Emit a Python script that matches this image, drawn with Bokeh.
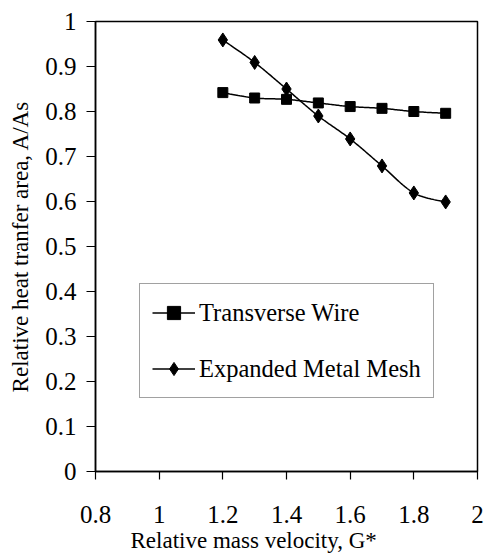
import numpy as np
from bokeh.plotting import figure
from bokeh.models import FixedTicker, Legend, LegendItem, Title
from bokeh.embed import file_html
from bokeh.resources import INLINE

# ---- data ----
g_star = [1.2, 1.3, 1.4, 1.5, 1.6, 1.7, 1.8, 1.9]
transverse_wire = [0.842, 0.830, 0.827, 0.819, 0.811, 0.807, 0.800, 0.796]
expanded_mesh = [0.959, 0.909, 0.850, 0.790, 0.739, 0.679, 0.619, 0.599]

x_ticks = [0.8, 1.0, 1.2, 1.4, 1.6, 1.8, 2.0]
x_tick_labels = ["0.8", "1", "1.2", "1.4", "1.6", "1.8", "2"]
y_ticks = [0, 0.1, 0.2, 0.3, 0.4, 0.5, 0.6, 0.7, 0.8, 0.9, 1.0]
y_tick_labels = ["0", "0.1", "0.2", "0.3", "0.4", "0.5", "0.6", "0.7", "0.8", "0.9", "1"]

x_title = "Relative mass velocity, G*"
y_title = "Relative heat tranfer area, A/As"
names = ["Transverse Wire", "Expanded Metal Mesh"]

FONT = "Liberation Serif"


def smooth(xs, ys, n=24):
    """Catmull-Rom spline through the data points (like a spreadsheet's smoothed line)."""
    P = np.column_stack([xs, ys]).astype(float)
    P = np.vstack([P[0], P, P[-1]])
    out = []
    for i in range(1, len(P) - 2):
        p0, p1, p2, p3 = P[i - 1], P[i], P[i + 1], P[i + 2]
        t = np.linspace(0, 1, n, endpoint=(i == len(P) - 3))[:, None]
        seg = 0.5 * ((2 * p1) + (-p0 + p2) * t + (2 * p0 - 5 * p1 + 4 * p2 - p3) * t ** 2
                     + (-p0 + 3 * p1 - 3 * p2 + p3) * t ** 3)
        out.append(seg)
    out = np.vstack(out)
    return out[:, 0], out[:, 1]


p = figure(width=486, height=553, x_range=(0.8, 2.0), y_range=(0, 1),
           output_backend="svg", toolbar_location=None,
           min_border_left=95, min_border_right=9, min_border_top=21, min_border_bottom=82)
p.xgrid.visible = False
p.ygrid.visible = False
p.outline_line_color = "black"
p.outline_line_width = 1.5
p.background_fill_color = "white"
p.border_fill_color = "white"

for ax in (p.xaxis[0], p.yaxis[0]):
    ax.axis_line_color = "black"
    ax.axis_line_width = 1.5
    ax.major_tick_line_color = "black"
    ax.major_tick_line_width = 1.2
    ax.major_tick_in = 0
    ax.minor_tick_line_color = None
    ax.major_label_text_font = FONT
    ax.major_label_text_font_size = "25px"
    ax.major_label_text_color = "black"

p.xaxis.ticker = FixedTicker(ticks=x_ticks)
p.xaxis.major_label_overrides = dict(zip(x_ticks, x_tick_labels))
p.xaxis.major_tick_out = 8
p.xaxis.major_label_standoff = 26

p.yaxis.ticker = FixedTicker(ticks=y_ticks)
p.yaxis.major_label_overrides = dict(zip(y_ticks, y_tick_labels))
p.yaxis.major_tick_out = 9
p.yaxis.major_label_standoff = 10
p.yaxis.axis_label = y_title
p.yaxis.axis_label_text_font = FONT
p.yaxis.axis_label_text_font_size = "23px"
p.yaxis.axis_label_text_font_style = "normal"
p.yaxis.axis_label_text_color = "black"
p.yaxis.axis_label_standoff = 9

xt = Title(text=x_title, align="left", offset=35, standoff=0,
           text_font=FONT, text_font_size="23px", text_font_style="normal",
           text_color="black")
p.add_layout(xt, "below")

# series
wx, wy = smooth(g_star, transverse_wire)
mx, my = smooth(g_star, expanded_mesh)
l1 = p.line(wx, wy, line_color="black", line_width=1.5)
s1 = p.scatter(g_star, transverse_wire, marker="square", size=10,
               fill_color="black", line_color="black")
l2 = p.line(mx, my, line_color="black", line_width=1.5)
s2 = p.scatter(g_star, expanded_mesh, marker="diamond", size=14,
               fill_color="black", line_color="black")

legend = Legend(items=[LegendItem(label=names[0], renderers=[l1, s1]),
                       LegendItem(label=names[1], renderers=[l2, s2])],
                location=(44, 73), padding=12, spacing=23, label_standoff=4,
                glyph_width=43, glyph_height=33, label_height=33,
                label_text_font=FONT, label_text_font_size="24.5px", label_text_color="black",
                border_line_color="#444444", border_line_width=1,
                background_fill_color="white", background_fill_alpha=1.0, margin=0)
p.add_layout(legend)

open("out.html", "w").write(file_html(p, INLINE))
